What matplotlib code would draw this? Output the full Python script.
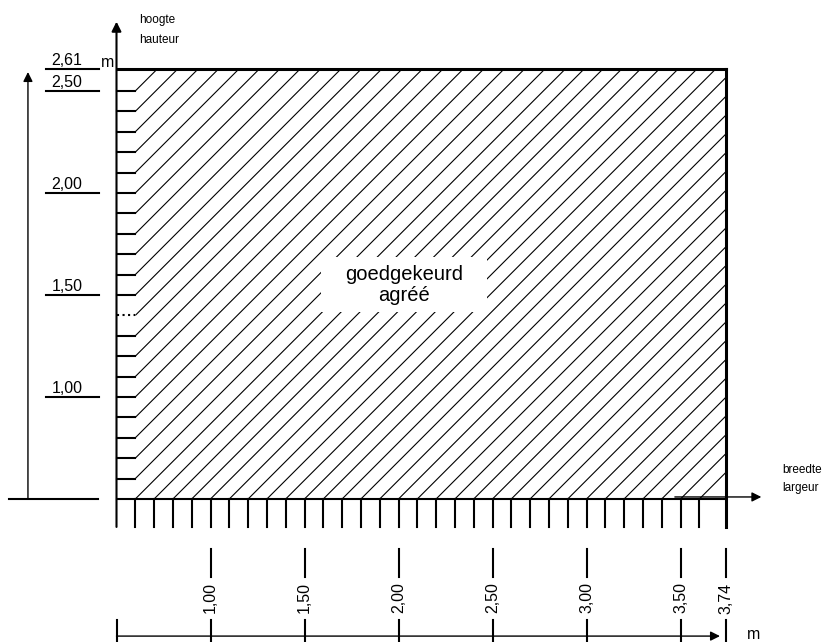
"""
Toegelaten afmetingen (hoogte x breedte) -- schematic redraw.
"""
import numpy as np
import matplotlib
matplotlib.use('Agg')
import matplotlib.pyplot as plt
from matplotlib.patches import Rectangle
from matplotlib.collections import LineCollection

plt.rcParams.update({'font.family': ['Liberation Sans', 'DejaVu Sans']})

# ---- data (metres) ----
x_min, x_max = 0.50, 3.74            # breedte / largeur
y_min, y_max = 0.50, 2.61            # hoogte / hauteur
x_ticks = np.round(np.arange(0.6, 3.61, 0.1), 2)
y_ticks = np.round(np.arange(0.6, 2.51, 0.1), 2)
y_dotted = [1.40]
x_labels = [1.00, 1.50, 2.00, 2.50, 3.00, 3.50, 3.74]
y_labels = [2.61, 2.50, 2.00, 1.50, 1.00]
centre_text = ['goedgekeurd', 'agréé']

# ---- page layout (pixels per metre) ----
W, H = 826, 642
X0_PX, SX = 116.5, 188.0
Y0_PX, SY = 499.0, 204.0
tick = 0.1
LW_AX, LW_EDGE, LW_HATCH = 1.5, 2.2, 0.8


def fmt(v):
    return f'{v:.2f}'.replace('.', ',')


fig = plt.figure(figsize=(W / 100, H / 100), dpi=100)
ax = fig.add_axes([0, 0, 1, 1])
ax.set_xlim(x_min - X0_PX / SX, x_min + (W - X0_PX) / SX)
ax.set_ylim(y_min - (H - Y0_PX) / SY, y_min + Y0_PX / SY)
ax.axis('off')

# hatching, 45 degrees on the page, starting at the tick ends and
# running up to the top or right edge
slope = SX / SY
starts = [(x_min + tick, y) for y in y_ticks] + [(x, y_min) for x in x_ticks]
segs = []
for x, y in starts:
    x_end = min(x_max, x + (y_max - y) / slope)
    segs.append([(x, y), (x_end, y + (x_end - x) * slope)])
ax.add_collection(LineCollection(segs, colors='black', linewidths=LW_HATCH))

# white patch behind the centre text
cx, cy = 2.03, 1.55
ax.add_patch(Rectangle((cx - 0.44, cy - 0.135), 0.88, 0.27, facecolor='white',
                       edgecolor='none', zorder=3))
ax.text(cx, cy, '\n'.join(centre_text), ha='center', va='center', fontsize=14.5,
        linespacing=1.15, zorder=4)

# outline: top and right edges heavy
ax.plot([x_min, x_max], [y_max, y_max], color='black', lw=LW_EDGE, solid_capstyle='projecting')
ax.plot([x_max, x_max], [y_min - 0.137, y_max], color='black', lw=LW_EDGE)
ax.plot([x_min, x_max], [y_min, y_min], color='black', lw=LW_AX)

# vertical axis with arrow
ax.annotate('', xy=(x_min, 2.84), xytext=(x_min, y_min - 0.137),
            arrowprops=dict(arrowstyle='-|>', color='black', lw=LW_AX,
                            mutation_scale=14, shrinkA=0, shrinkB=0))
ax.text(x_min - 0.01, y_max - 0.005, 'm', ha='right', va='bottom', fontsize=11.5)
ax.text(0.62, 2.848, 'hoogte', ha='left', va='center', fontsize=8.5)
ax.text(0.62, 2.75, 'hauteur', ha='left', va='center', fontsize=8.5)

# ticks along the height
for y in y_ticks:
    ls = ':' if y in y_dotted else '-'
    ax.plot([x_min, x_min + tick], [y, y], color='black', lw=LW_AX, ls=ls)

# ticks along the width
for x in x_ticks:
    ax.plot([x, x], [y_min, y_min - 0.137], color='black', lw=LW_AX)

# breedte arrow
ax.annotate('', xy=(3.93, 0.51), xytext=(3.47, 0.51),
            arrowprops=dict(arrowstyle='-|>', color='black', lw=1.0,
                            mutation_scale=14, shrinkA=0, shrinkB=0))
ax.text(4.04, 0.642, 'breedte', ha='left', va='center', fontsize=8.5)
ax.text(4.04, 0.554, 'largeur', ha='left', va='center', fontsize=8.5)

# height labels on the left
lx0, lx1 = 0.125, 0.407
for v in y_labels:
    ax.plot([lx0, lx1], [v, v], color='black', lw=LW_AX)
    ax.text(0.155, v + 0.004, fmt(v), ha='left', va='bottom', fontsize=11.5)
ax.plot([-0.072, 0.402], [y_min, y_min], color='black', lw=LW_AX)
ax.annotate('', xy=(0.029, 2.593), xytext=(0.029, y_min),
            arrowprops=dict(arrowstyle='-|>', color='black', lw=1.0,
                            mutation_scale=14, shrinkA=0, shrinkB=0))

# width labels underneath
yb = ax.get_ylim()[0]
for v in x_labels:
    ax.plot([v, v], [0.255, 0.118], color='black', lw=LW_AX)
    ax.plot([v, v], [-0.093, yb], color='black', lw=LW_AX)
    ax.text(v, 0.015, fmt(v), rotation=90, ha='center', va='center', fontsize=11.5)
ax.plot([x_min, x_min], [-0.093, yb], color='black', lw=LW_AX)
ax.annotate('', xy=(x_max - 0.03, -0.172), xytext=(x_min, -0.172),
            arrowprops=dict(arrowstyle='-|>', color='black', lw=1.0,
                            mutation_scale=14, shrinkA=0, shrinkB=0))
ax.text(x_max + 0.15, -0.165, 'm', ha='center', va='center', fontsize=11.5)

fig.savefig('out.png', dpi=100)
plt.close(fig)
